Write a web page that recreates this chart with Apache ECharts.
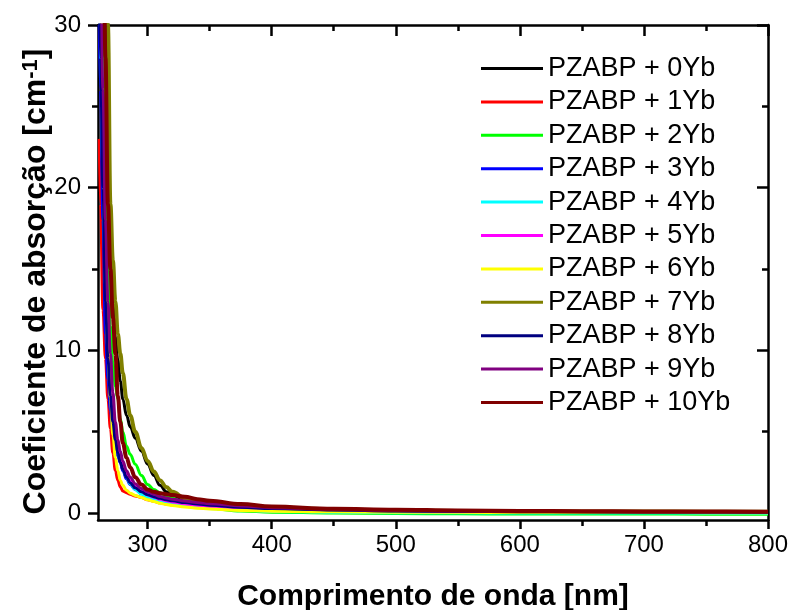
<!DOCTYPE html>
<html lang="pt">
<head>
    <meta charset="UTF-8">
    <title>Coeficiente de absorção PZABP + Yb</title>
    <script src="https://cdn.jsdelivr.net/npm/echarts@6/dist/echarts.min.js"></script>
    <style>
        html, body { margin: 0; padding: 0; background: #fff; }
    </style>
</head>
<body>
    <div id="main" style="width: 789px;height: 610px;"></div>
<script>
    // comprimento de onda (nm)
    var wavelength = [261, 262, 264, 266, 268, 270, 272, 274, 276, 278, 280, 283, 286, 290, 295, 300,
        305, 310, 315, 320, 330, 340, 350, 375, 400, 450, 500, 550, 600, 650, 700, 750, 800];

    // coeficiente de absorção (cm-1)
    var yb0 = [60, 52, 40, 31, 20, 15.5, 12.8, 10.8, 9.4, 8.1, 7.0, 6.0, 5.3, 4.6, 3.8, 3.0,
        2.3, 1.7, 1.3, 1.08, 0.8, 0.62, 0.5, 0.35, 0.26, 0.18, 0.13, 0.11, 0.09, 0.08, 0.07, 0.06, 0.06];
    var yb1 = [23, 19, 12.5, 9.5, 7.0, 5.2, 3.7, 2.6, 2.0, 1.6, 1.35, 1.25, 1.15, 1.05, 0.95, 0.82,
        0.72, 0.63, 0.56, 0.5, 0.42, 0.35, 0.3, 0.2, 0.15, 0.09, 0.07, 0.05, 0.04, 0.04, 0.03, 0.03, 0.03];
    var yb2 = [45, 40, 30, 21, 15, 11.5, 9.2, 7.8, 7.0, 5.8, 5.0, 4.1, 3.6, 3.0, 2.3, 1.75,
        1.45, 1.25, 1.05, 0.9, 0.6, 0.4, 0.28, 0.12, 0.05, 0.0, -0.03, -0.05, -0.06, -0.06, -0.06, -0.07, -0.07];
    var yb3 = [30, 26, 18, 11, 8.2, 6.3, 5.0, 4.0, 3.5, 3.1, 2.6, 2.1, 1.75, 1.45, 1.2, 1.05,
        0.95, 0.85, 0.78, 0.7, 0.6, 0.5, 0.42, 0.3, 0.22, 0.14, 0.1, 0.08, 0.06, 0.05, 0.05, 0.04, 0.04];
    var yb4 = [34, 29, 21, 14, 10, 7.5, 5.8, 4.6, 3.8, 3.2, 2.75, 2.2, 1.8, 1.45, 1.15, 0.95,
        0.82, 0.72, 0.63, 0.56, 0.45, 0.36, 0.3, 0.18, 0.1, 0.05, 0.02, 0.01, 0.0, 0.0, 0.0, -0.01, -0.01];
    var yb5 = [36, 31, 23, 16, 11.5, 8.5, 6.5, 5.1, 4.2, 3.5, 3.0, 2.4, 2.0, 1.65, 1.35, 1.12,
        0.98, 0.85, 0.76, 0.68, 0.56, 0.47, 0.4, 0.28, 0.2, 0.13, 0.09, 0.07, 0.06, 0.05, 0.05, 0.04, 0.04];
    var yb6 = [38, 33, 23, 15, 10, 7.0, 4.8, 3.4, 2.6, 2.0, 1.7, 1.4, 1.22, 1.08, 0.95, 0.82,
        0.7, 0.6, 0.52, 0.46, 0.37, 0.3, 0.25, 0.16, 0.11, 0.07, 0.05, 0.04, 0.03, 0.03, 0.03, 0.02, 0.02];
    var yb7 = [70, 62, 50, 40, 30, 19, 15.5, 13, 11, 9.8, 8.6, 7.0, 6.0, 5.0, 4.0, 3.2,
        2.55, 2.0, 1.6, 1.3, 0.9, 0.75, 0.6, 0.42, 0.32, 0.22, 0.16, 0.13, 0.11, 0.1, 0.09, 0.08, 0.08];
    var yb8 = [32, 28, 20, 13, 9.5, 7.2, 5.6, 4.5, 3.7, 3.1, 2.7, 2.2, 1.85, 1.55, 1.3, 1.12,
        1.0, 0.9, 0.82, 0.75, 0.64, 0.55, 0.48, 0.35, 0.27, 0.18, 0.13, 0.1, 0.08, 0.07, 0.06, 0.06, 0.05];
    var yb9 = [40, 35, 26, 18, 13, 9.8, 7.4, 5.6, 4.5, 3.8, 3.2, 2.6, 2.2, 1.8, 1.5, 1.3,
        1.15, 1.02, 0.92, 0.85, 0.74, 0.65, 0.57, 0.43, 0.33, 0.22, 0.16, 0.12, 0.1, 0.09, 0.08, 0.07, 0.07];
    var yb10 = [60, 52, 40, 28, 19, 15, 12, 9.8, 7.2, 5.6, 4.3, 3.4, 2.8, 2.2, 1.75, 1.45,
        1.3, 1.22, 1.16, 1.1, 1.0, 0.85, 0.75, 0.55, 0.4, 0.26, 0.2, 0.16, 0.13, 0.11, 0.1, 0.09, 0.08];

    var names = ['PZABP + 0Yb', 'PZABP + 1Yb', 'PZABP + 2Yb', 'PZABP + 3Yb', 'PZABP + 4Yb', 'PZABP + 5Yb',
        'PZABP + 6Yb', 'PZABP + 7Yb', 'PZABP + 8Yb', 'PZABP + 9Yb', 'PZABP + 10Yb'];
    var colors = ['#000000', '#ff0000', '#00ff00', '#0000ff', '#00ffff', '#ff00ff',
        '#ffff00', '#808000', '#000080', '#800080', '#800000'];
    var values = [yb0, yb1, yb2, yb3, yb4, yb5, yb6, yb7, yb8, yb9, yb10];

    var xMajor = [300, 400, 500, 600, 700, 800];
    var xMinor = [350, 450, 550, 650, 750];
    var yMajor = [0, 10, 20, 30];
    var yMinor = [5, 15, 25];

    var fontName = 'Liberation Sans, Arial, sans-serif';
    var black = '#000';

    function axisBase(min, max) {
        return {
            type: 'value', min: min, max: max,
            splitLine: { show: false },
            axisLine: { show: true, onZero: false, lineStyle: { color: black, width: 2.5 } },
            axisLabel: { show: false },
            axisTick: { show: false }
        };
    }

    function tickAxis(min, max, pos, vals, len, inside, withLine) {
        var a = axisBase(min, max);
        a.position = pos;
        a.axisLine.show = withLine;
        a.axisTick = { show: true, inside: inside, length: len, customValues: vals,
            lineStyle: { color: black, width: 2.5 } };
        return a;
    }

    // eixo x principal (com rótulos)
    var xMain = tickAxis(260, 800, 'bottom', xMajor, 9, false, true);
    xMain.axisLabel = { show: true, customValues: xMajor, margin: 13, color: black,
        fontFamily: fontName, fontSize: 24 };
    xMain.name = 'Comprimento de onda [nm]';
    xMain.nameLocation = 'middle';
    xMain.nameGap = 62;
    xMain.nameMoveOverlap = false;
    xMain.nameTextStyle = { color: black, fontFamily: fontName, fontWeight: 'bold', fontSize: 30 };

    var yMain = tickAxis(-0.43, 30, 'left', yMajor, 10, false, true);
    yMain.axisLabel = { show: true, customValues: yMajor, margin: 17, color: black,
        fontFamily: fontName, fontSize: 24 };
    yMain.name = 'Coeficiente de absorção [cm{sup|-1}]';
    yMain.nameLocation = 'middle';
    yMain.nameRotate = 90;
    yMain.nameGap = 46;
    yMain.nameMoveOverlap = false;
    yMain.nameTextStyle = { color: black, fontFamily: fontName, fontWeight: 'bold', fontSize: 32,
        padding: [0, 18, 0, 0],
        rich: { sup: { fontFamily: fontName, fontWeight: 'bold', fontSize: 22, verticalAlign: 'top', color: black } } };

    var series = names.map(function (n, i) {
        return {
            name: n,
            type: 'line',
            xAxisIndex: 0,
            yAxisIndex: 0,
            showSymbol: false,
            smooth: 0.4,
            smoothMonotone: 'x',
            clip: true,
            lineStyle: { color: colors[i], width: (i === 7 || i === 10) ? 4 : 3 },
            itemStyle: { color: colors[i] },
            data: wavelength.map(function (w, k) { return [w, values[i][k]]; })
        };
    });

    var myChart = echarts.init(document.getElementById('main'));
    myChart.setOption({
        animation: false,
        backgroundColor: '#fff',
        grid: { left: 98, right: 21, top: 25, bottom: 90, outerBoundsMode: 'none', containLabel: false },
        legend: {
            orient: 'vertical',
            left: 481,
            top: 55,
            padding: 0,
            icon: 'rect',
            itemWidth: 62,
            itemHeight: 3,
            itemGap: 6.4,
            textStyle: { color: black, fontFamily: fontName, fontSize: 27, lineHeight: 27 },
            data: names
        },
        xAxis: [
            xMain,
            tickAxis(260, 800, 'top', xMajor, 11, true, true),
            tickAxis(260, 800, 'bottom', xMinor, 6, false, false),
            tickAxis(260, 800, 'top', xMinor, 6, true, false)
        ],
        yAxis: [
            yMain,
            tickAxis(-0.43, 30, 'right', yMajor, 11, true, true),
            tickAxis(-0.43, 30, 'left', yMinor, 6, false, false),
            tickAxis(-0.43, 30, 'right', yMinor, 6, true, false)
        ],
        series: series
    });
</script>
</body>
</html>
